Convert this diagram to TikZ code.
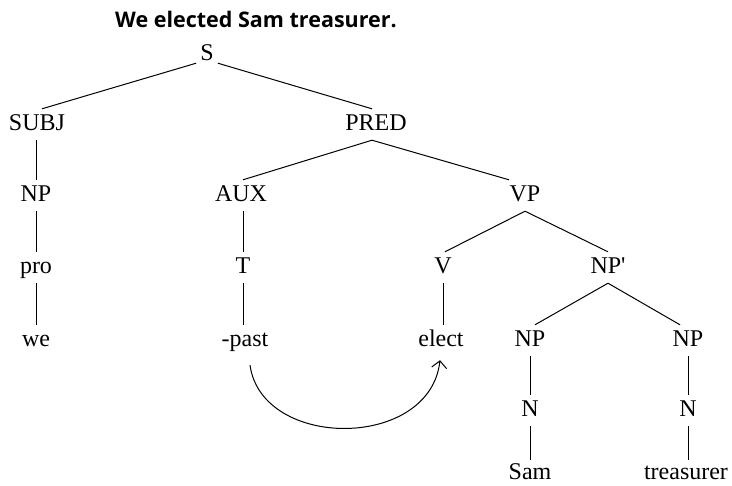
\documentclass[tikz,border=0pt]{standalone}
\usepackage{fontspec}
\setmainfont{Liberation Serif}
\newfontfamily\titlefont{Open Sans}
\usetikzlibrary{arrows.meta,calc}
\begin{document}
\begin{tikzpicture}[x=1pt,y=-1pt,
  lab/.style={font=\fontsize{24}{28}\selectfont, anchor=base,
    text height=17pt, text depth=4pt, inner ysep=5pt, inner xsep=2pt},
  leaf/.style={lab, text depth=0pt, inner ysep=3pt},
  edge/.style={line width=1pt},
  mv/.style={line width=1pt, -{Straight Barb[length=7pt,width=15pt,line width=1pt]}}]
\useasboundingbox (0,0) rectangle (732,486);
\node[font=\titlefont\bfseries\fontsize{21.5}{26}\selectfont, anchor=base west, inner sep=0pt] (title) at (115,28) {We elected Sam treasurer.};
\node[lab, text depth=0pt, inner ysep=2pt, inner xsep=4pt] (S) at (207,61) {S};
\node[lab] (SUBJ) at (37,131) {SUBJ};
\node[lab] (PRED) at (376,131) {PRED};
\node[lab] (NP1) at (36,202) {NP};
\node[lab] (AUX) at (241,202) {AUX};
\node[lab] (VP) at (525,202) {VP};
\node[lab] (pro) at (36,274) {pro};
\node[lab] (T) at (243,274) {T};
\node[lab] (V) at (443,274) {V};
\node[lab] (NPp) at (608,274) {NP\textquotesingle};
\node[lab] (we) at (36,347) {we};
\node[lab] (past) at (245,347) {-past};
\node[lab] (elect) at (441,347) {elect};
\node[lab] (NP2) at (530,347) {NP};
\node[lab] (NP3) at (688,347) {NP};
\node[lab] (N1) at (530,417) {N};
\node[lab] (N2) at (688,417) {N};
\node[leaf] (Sam) at (530,480) {Sam};
\node[leaf] (treas) at (686,480) {treasurer};
\draw[edge] (S.south west) -- ([xshift=5pt]SUBJ.north);
\draw[edge] (S.south east) -- ([xshift=-4pt]PRED.north);
\draw[edge] (SUBJ.south -| NP1.north) -- (NP1.north);
\draw[edge] (NP1.south) -- (pro.north);
\draw[edge] (pro.south) -- (we.north);
\draw[edge] ([xshift=-4pt]PRED.south) -- ([xshift=2pt]AUX.north);
\draw[edge] ([xshift=-4pt]PRED.south) -- ([xshift=-16pt]VP.north);
\draw[edge] ([xshift=2pt]AUX.south) -- (T.north);
\draw[edge] (T.south) -- (T.south |- past.north);
\draw[edge] (VP.south) -- ([xshift=2pt]V.north);
\draw[edge] (VP.south) -- (NPp.north);
\draw[edge] (V.south) -- (V.south |- elect.north);
\draw[edge] (NPp.south) -- ([xshift=5pt]NP2.north);
\draw[edge] (NPp.south) -- ([xshift=-8pt]NP3.north);
\draw[edge] (NP2.south) -- (N1.north);
\draw[edge] (NP3.south) -- (N2.north);
\draw[edge] (N1.south) -- (Sam.north);
\draw[edge] (N2.south) -- (N2.south |- treas.north);
\draw[mv] ($(past.south)+(5,9)$) .. controls +(12,85) and +(-10,90) .. ($(elect.south)+(-1,4)$);
\end{tikzpicture}
\end{document}
